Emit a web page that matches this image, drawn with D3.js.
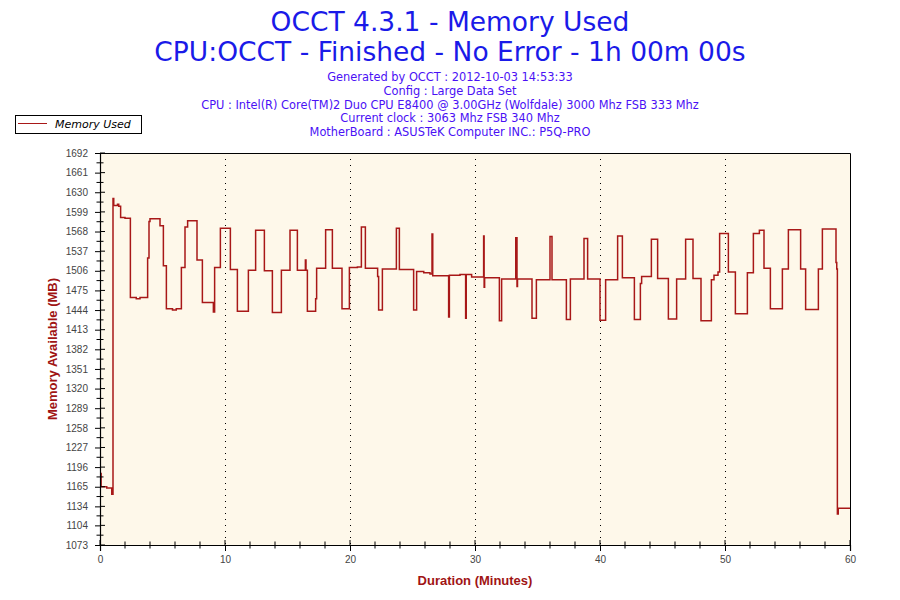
<!DOCTYPE html>
<html>
<head>
<meta charset="utf-8">
<script src="https://cdn.jsdelivr.net/npm/d3@7"></script>
<style>
  body { margin: 0; background: #fff; }
  svg { display: block; }
</style>
</head>
<body>
<svg width="900" height="600"></svg>
<script>
// chart text
let titleLines = ['OCCT 4.3.1 - Memory Used', 'CPU:OCCT - Finished - No Error - 1h 00m 00s'];
let infoLines = [
    'Generated by OCCT : 2012-10-03 14:53:33',
    'Config : Large Data Set',
    'CPU : Intel(R) Core(TM)2 Duo CPU E8400 @ 3.00GHz (Wolfdale) 3000 Mhz FSB 333 Mhz',
    'Current clock : 3063 Mhz FSB 340 Mhz',
    'MotherBoard : ASUSTeK Computer INC.: P5Q-PRO'
];
let seriesName = 'Memory Used';
let xLabel = 'Duration (Minutes)';
let yLabel = 'Memory Available (MB)';

// axes
let xTicks = [0, 10, 20, 30, 40, 50, 60];
let yTickLabels = [1692, 1661, 1630, 1599, 1568, 1537, 1506, 1475, 1444, 1413, 1382,
    1351, 1320, 1289, 1258, 1227, 1196, 1165, 1134, 1104, 1073];

// step points: minute, MB
let memTime = [0.08, 0.09, 0.54, 0.94, 1.04, 1.10, 1.40, 1.50, 1.65, 2.00,
    2.43, 2.90, 3.20, 3.81, 3.92, 4.00, 4.80, 5.07, 5.31, 5.80,
    6.10, 6.51, 6.80, 7.01, 7.76, 8.19, 9.07, 9.17, 9.63, 10.43,
    10.99, 11.87, 12.45, 13.15, 13.79, 14.51, 15.20, 15.79, 16.43, 16.48,
    16.59, 17.25, 17.33, 18.05, 18.59, 19.36, 19.95, 20.59, 20.91, 21.23,
    22.21, 22.29, 22.59, 23.71, 23.95, 25.09, 25.33, 25.90, 26.40, 26.56,
    26.62, 27.89, 27.95, 28.80, 29.25, 29.30, 29.73, 30.69, 30.73, 30.77,
    31.95, 32.13, 33.26, 33.36, 33.40, 34.56, 34.91, 36.00, 36.16, 37.31,
    37.63, 38.72, 39.01, 40.00, 40.45, 41.41, 41.79, 42.75, 43.23, 43.33,
    44.11, 44.61, 45.47, 46.13, 46.85, 47.44, 48.08, 48.91, 49.12, 49.44,
    49.57, 50.27, 50.83, 51.79, 52.27, 52.75, 53.12, 53.63, 54.59, 55.07,
    56.05, 56.45, 57.47, 57.79, 58.88, 58.94, 58.99, 59.06, 60.00];
let memValue = [1186, 1165, 1163, 1153, 1620, 1609, 1611, 1608, 1590, 1589,
    1464, 1462, 1464, 1526, 1584, 1588, 1577, 1514, 1446, 1444,
    1446, 1511, 1575, 1585, 1523, 1456, 1441, 1511, 1573, 1508,
    1442, 1507, 1570, 1506, 1440, 1507, 1570, 1507, 1523, 1507,
    1442, 1462, 1510, 1571, 1510, 1446, 1511, 1512, 1575, 1510,
    1497, 1444, 1509, 1573, 1508, 1444, 1505, 1503, 1501, 1564,
    1498, 1433, 1499, 1500, 1431, 1500, 1496, 1561, 1480, 1495,
    1427, 1493, 1558, 1481, 1493, 1431, 1492, 1560, 1492, 1429,
    1493, 1557, 1493, 1428, 1492, 1561, 1495, 1429, 1486, 1497,
    1556, 1494, 1430, 1493, 1556, 1494, 1427, 1492, 1499, 1504,
    1565, 1504, 1438, 1503, 1565, 1570, 1510, 1446, 1509, 1571,
    1509, 1445, 1509, 1572, 1519, 1509, 1122, 1131, 1131];

var drawChart = function () {
    let svg = d3.select('svg');
    let margin = { top: 153, right: 50, bottom: 55, left: 100 };
    let plotWidth = 900 - margin.left - margin.right;
    let plotHeight = 600 - margin.top - margin.bottom;

    // titles
    svg.selectAll('text.title')
        .data(titleLines)
        .enter()
        .append('text')
        .attr('class', 'title')
        .attr('x', 450)
        .attr('y', (d, i) => 31 + i * 30)
        .attr('text-anchor', 'middle')
        .style('font-family', 'DejaVu Sans, Verdana, sans-serif')
        .style('font-size', '26.5px')
        .attr('fill', '#1A1AE8')
        .text(d => d);

    svg.selectAll('text.info')
        .data(infoLines)
        .enter()
        .append('text')
        .attr('class', 'info')
        .attr('x', 450)
        .attr('y', (d, i) => 81 + i * 13.8)
        .attr('text-anchor', 'middle')
        .style('font-family', 'DejaVu Sans, Verdana, sans-serif')
        .style('font-size', '11.4px')
        .attr('fill', '#4A10F5')
        .text(d => d);

    // legend
    let legend = svg.append('g').attr('transform', 'translate(15,115)');
    legend.append('rect')
        .attr('x', 0.5).attr('y', 0.5)
        .attr('width', 126).attr('height', 18)
        .attr('fill', '#fff')
        .attr('stroke', '#000');
    legend.append('line')
        .attr('x1', 3).attr('x2', 32)
        .attr('y1', 8.5).attr('y2', 8.5)
        .attr('stroke', '#A81818');
    legend.append('text')
        .attr('x', 40).attr('y', 12.5)
        .style('font-family', 'DejaVu Sans, Verdana, sans-serif')
        .style('font-size', '11px')
        .style('font-style', 'italic')
        .attr('fill', '#000')
        .text(seriesName);

    let plot = svg.append('g')
        .attr('id', 'plot')
        .attr('transform', 'translate(' + margin.left + ',' + margin.top + ')');

    let xScale = d3.scaleLinear().domain([0, 60]).range([0, plotWidth]);
    let yScale = d3.scaleLinear()
        .domain([d3.min(yTickLabels), d3.max(yTickLabels)])
        .range([plotHeight, 0]);

    plot.append('rect')
        .attr('width', plotWidth)
        .attr('height', plotHeight)
        .attr('fill', '#FEF8EA');

    // dotted verticals
    plot.selectAll('line.grid')
        .data(xTicks.slice(1, -1))
        .enter()
        .append('line')
        .attr('class', 'grid')
        .attr('x1', d => Math.round(xScale(d)) + 0.5)
        .attr('x2', d => Math.round(xScale(d)) + 0.5)
        .attr('y1', 0).attr('y2', plotHeight)
        .attr('stroke', '#000')
        .attr('stroke-dasharray', '1,5');

    // memory line
    let line = d3.line()
        .x((d, i) => xScale(memTime[i]))
        .y(d => yScale(d))
        .curve(d3.curveStepAfter);
    plot.append('path')
        .datum(memValue)
        .attr('fill', 'none')
        .attr('stroke', '#A81818')
        .attr('stroke-width', 1.5)
        .attr('d', line);

    // frame top/right
    plot.append('path')
        .attr('d', 'M0,0.5H' + (plotWidth + 0.5) + 'V' + plotHeight)
        .attr('fill', 'none')
        .attr('stroke', '#000');

    // axes
    let xAxis = d3.axisBottom(xScale).tickValues(xTicks).tickSize(6).tickPadding(5);
    let xGroup = plot.append('g')
        .attr('transform', 'translate(0,' + plotHeight + ')')
        .call(xAxis);
    let yAxis = d3.axisLeft(yScale).tickValues(yTickLabels).tickFormat(d3.format('d'))
        .tickSize(5).tickPadding(7);
    let yGroup = plot.append('g').call(yAxis);

    [xGroup, yGroup].forEach(g => {
        g.select('.domain').attr('stroke', '#000').attr('stroke-width', 1.2);
        g.selectAll('.tick line').attr('stroke', '#000');
        g.selectAll('text')
            .style('font-family', 'Liberation Sans, Arial, sans-serif')
            .style('font-size', '10px')
            .attr('fill', '#444');
    });

    // inner halves of major ticks and the minor ticks
    let minorX = d3.range(0, 61, 2);
    xGroup.selectAll('line.minor')
        .data(minorX)
        .enter()
        .append('line')
        .attr('class', 'minor')
        .attr('x1', d => xScale(d)).attr('x2', d => xScale(d))
        .attr('y1', d => d % 10 === 0 ? -5 : -3.5)
        .attr('y2', d => d % 10 === 0 ? 0 : 3.5)
        .attr('stroke', '#000');
    let minorY = [];
    yTickLabels.forEach((d, i) => {
        minorY.push({ v: d, major: true });
        if (i < yTickLabels.length - 1) minorY.push({ v: (d + yTickLabels[i + 1]) / 2, major: false });
    });
    yGroup.selectAll('line.minor')
        .data(minorY)
        .enter()
        .append('line')
        .attr('class', 'minor')
        .attr('y1', d => yScale(d.v)).attr('y2', d => yScale(d.v))
        .attr('x1', d => d.major ? 0 : -3.5)
        .attr('x2', d => d.major ? 5 : 3.5)
        .attr('stroke', '#000');

    // axis titles
    plot.append('text')
        .attr('x', plotWidth / 2)
        .attr('y', plotHeight + 40)
        .attr('text-anchor', 'middle')
        .style('font-family', 'Liberation Sans, Arial, sans-serif')
        .style('font-size', '13px')
        .style('font-weight', 'bold')
        .attr('fill', '#A01414')
        .text(xLabel);
    plot.append('text')
        .attr('text-anchor', 'middle')
        .attr('transform', 'translate(-43,' + (plotHeight / 2) + ')rotate(-90)')
        .style('font-family', 'Liberation Sans, Arial, sans-serif')
        .style('font-size', '13px')
        .style('font-weight', 'bold')
        .attr('fill', '#A01414')
        .text(yLabel);
}
drawChart();
</script>
</body>
</html>
